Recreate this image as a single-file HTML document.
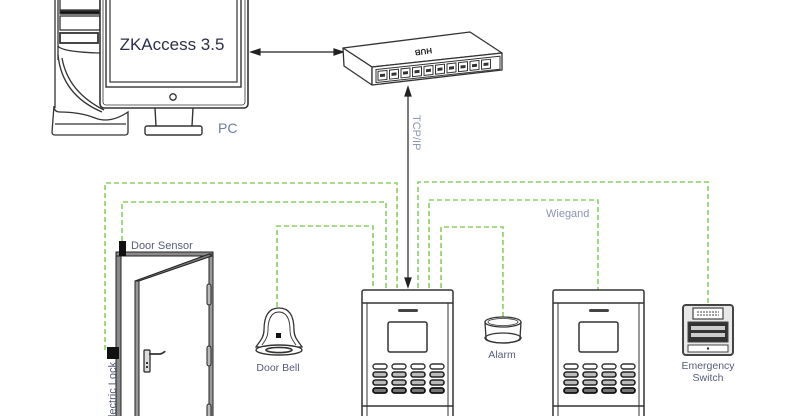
<!DOCTYPE html>
<html><head><meta charset="utf-8"><style>
html,body{margin:0;padding:0;background:#fff;}
svg{display:block;}
text{font-family:"Liberation Sans",sans-serif;}
</style></head><body>
<svg width="785" height="416" viewBox="0 0 785 416" xmlns="http://www.w3.org/2000/svg">
<rect width="785" height="416" fill="#fff"/>

<!-- PC tower -->
<g fill="none" stroke="#333" stroke-width="1.3">
  <path d="M55,0 V108"/>
  <path d="M58,0 V60"/>
  <rect x="60" y="-2" width="40" height="12" fill="#fff"/>
  <rect x="60" y="11" width="40" height="3" fill="#111"/>
  <rect x="60" y="16" width="40" height="14"/>
  <rect x="60" y="33" width="38" height="10" stroke-width="1.8"/>
  <path d="M58,46 Q62,52 100,53"/>
  <path d="M58,55 Q62,95 102,112"/>
  <path d="M62,58 Q68,92 104,110"/>
  <path d="M54,106 Q54,112 60,112 Q80,112 95,118 Q110,124 128,112 V132 Q128,135 125,135 H55 Q52,135 52,132 Z" fill="#fff"/>
  <path d="M55,124 H126"/>
</g>

<!-- Monitor -->
<g fill="none" stroke="#333">
  <rect x="100" y="-10" width="148" height="118" rx="4" stroke-width="1.6" fill="#fff"/>
  <rect x="103" y="-10" width="142" height="115" rx="3" stroke-width="0.8"/>
  <rect x="106" y="-6" width="135" height="93" stroke-width="1.4"/>
  <rect x="110" y="-6" width="127" height="88" stroke-width="1.2"/>
  <circle cx="173" cy="97" r="3.2" stroke-width="1.3"/>
  <path d="M155,108 L156,126 M193,108 L192,126" stroke-width="1.4"/>
  <rect x="145" y="126" width="57" height="9" rx="2" stroke-width="1.4" fill="#fff"/>
</g>
<text x="172" y="50" font-size="17" fill="#2b2f48" text-anchor="middle">ZKAccess 3.5</text>
<text x="218" y="133" font-size="14" fill="#6f7ea0">PC</text>

<!-- Arrow monitor <-> hub -->
<g stroke="#222" stroke-width="1.2" fill="#222">
  <line x1="256" y1="52" x2="338" y2="52"/>
  <path d="M251,52 L260,49 L260,55 Z"/>
  <path d="M343,52 L334,49 L334,55 Z"/>
</g>

<!-- HUB -->
<g stroke="#333" stroke-width="1.3" stroke-linejoin="round">
  <polygon points="343,48 470,32 502,53 372,67" fill="#fff"/>
  <polygon points="343,48 372,67 372,85 344,66" fill="#fff"/>
  <polygon points="372,67 502,53 502,70 372,85" fill="#fff"/>
</g>
<g transform="translate(372,67) skewY(-6.14)">
  <rect x="4" y="3" width="124" height="13" fill="none" stroke="#333" stroke-width="1"/>
  <g fill="#fff" stroke="#333" stroke-width="1">
    <rect x="6" y="5" width="9" height="9"/><rect x="17.5" y="5" width="9" height="9"/>
    <rect x="29" y="5" width="9" height="9"/><rect x="40.5" y="5" width="9" height="9"/>
    <rect x="52" y="5" width="9" height="9"/><rect x="63.5" y="5" width="9" height="9"/>
    <rect x="75" y="5" width="9" height="9"/><rect x="86.5" y="5" width="9" height="9"/>
    <rect x="98" y="5" width="9" height="9"/><rect x="109.5" y="5" width="9" height="9"/>
  </g>
  <g fill="#333">
    <rect x="8" y="8" width="5" height="3"/><rect x="19.5" y="8" width="5" height="3"/>
    <rect x="31" y="8" width="5" height="3"/><rect x="42.5" y="8" width="5" height="3"/>
    <rect x="54" y="8" width="5" height="3"/><rect x="65.5" y="8" width="5" height="3"/>
    <rect x="77" y="8" width="5" height="3"/><rect x="88.5" y="8" width="5" height="3"/>
    <rect x="100" y="8" width="5" height="3"/><rect x="111.5" y="8" width="5" height="3"/>
  </g>
</g>
<text x="0" y="0" font-size="8" font-weight="bold" fill="#222" text-anchor="middle" transform="translate(423,49) rotate(172)">HUB</text>

<!-- TCP/IP arrow -->
<g stroke="#222" stroke-width="1.2" fill="#222">
  <line x1="408" y1="92" x2="408" y2="282"/>
  <path d="M408,87 L405,96 L411,96 Z"/>
  <path d="M408,287 L405,278 L411,278 Z"/>
</g>
<text x="0" y="0" font-size="11" fill="#8a96b2" transform="translate(413,115) rotate(90)">TCP/IP</text>

<!-- Green dashed wiring -->
<g fill="none" stroke="#8ccf63" stroke-width="1.6" stroke-dasharray="5 3">
  <path d="M105,350 V183 H397 V288"/>
  <path d="M122,241 V202 H386 V288"/>
  <path d="M277,307 V226 H373 V288"/>
  <path d="M418,288 V182 H708 V305"/>
  <path d="M429,288 V200 H598 V290"/>
  <path d="M441,288 V227 H503 V317"/>
</g>
<text x="546" y="217" font-size="11" fill="#8a96b2">Wiegand</text>

<!-- Door -->
<g stroke="#222" stroke-width="1">
  <rect x="116" y="252" width="5" height="170" fill="#8a8a8a"/>
  <rect x="116" y="252" width="97" height="4" fill="#8a8a8a"/>
  <rect x="209" y="254" width="4" height="170" fill="#999"/>
  <rect x="135" y="281" width="4" height="140" fill="#999"/>
  <polygon points="135,281 139,281 212,256 209,254" fill="#777"/>
  <rect x="207" y="284" width="4" height="21" rx="2" fill="#bbb"/>
  <rect x="207" y="346" width="4" height="20" rx="2" fill="#bbb"/>
  <rect x="207" y="404" width="4" height="16" rx="2" fill="#bbb"/>
  <rect x="144" y="350" width="6" height="22" rx="1" fill="#ddd" stroke-width="1.2"/>
</g>
<path d="M149,354 L160,354 Q164,353 165,351" fill="none" stroke="#333" stroke-width="1.8"/>
<rect x="146" y="362" width="2" height="2" fill="#333"/>
<rect x="146" y="366" width="2" height="2" fill="#333"/>
<rect x="119" y="241" width="7" height="15" fill="#111"/>
<rect x="107" y="347" width="12" height="12" fill="#111"/>
<text x="131" y="249" font-size="11" fill="#555e78">Door Sensor</text>
<text x="0" y="0" font-size="11" fill="#555e78" text-anchor="end" transform="translate(116,362) rotate(-90)">Electric Lock</text>

<!-- Door bell -->
<g fill="none" stroke="#333" stroke-width="1.3">
  <path d="M279,308 C266,308 264,320 264,330 C264,338 259,342 256,347 L302,347 C299,342 294,338 294,330 C294,320 292,308 279,308 Z" fill="#fff"/>
  <path d="M279,312 C270,312 268,322 268,330 C268,338 264,342 262,345" stroke-width="0.9"/>
  <path d="M279,312 C288,312 290,322 290,330 C290,338 294,342 296,345" stroke-width="0.9"/>
  <ellipse cx="279" cy="350" rx="23" ry="5" fill="#fff" stroke-width="1.4"/>
  <ellipse cx="279" cy="350" rx="13" ry="2.6" stroke-width="1.6"/>
</g>
<rect x="276" y="333" width="5" height="5" fill="#111"/>
<text x="278" y="371" font-size="10.5" fill="#555e78" text-anchor="middle">Door Bell</text>

<!-- Device 1 -->
<g id="dev">
  <g fill="none" stroke="#333" stroke-width="1.5">
    <rect x="362" y="290" width="91" height="140" rx="2" fill="#fff"/>
    <line x1="362" y1="303" x2="453" y2="303"/>
    <line x1="367" y1="303" x2="367" y2="420" stroke-width="1"/>
    <line x1="448" y1="303" x2="448" y2="420" stroke-width="1"/>
    <line x1="362" y1="406" x2="453" y2="406"/>
    <rect x="388" y="322" width="39" height="30" rx="2"/>
  </g>
  <rect x="398" y="309" width="20" height="3" rx="1.5" fill="#444"/>
  <g stroke="#333" stroke-width="1.4" fill="#fff">
    <rect x="373" y="364" width="14" height="5" rx="2.5"/><rect x="392" y="364" width="14" height="5" rx="2.5"/>
    <rect x="411" y="364" width="14" height="5" rx="2.5"/><rect x="430" y="364" width="14" height="5" rx="2.5"/>
  </g>
  <g stroke="#222" stroke-width="1.6" fill="#bbb">
    <rect x="373" y="372" width="14" height="5" rx="2.5"/><rect x="392" y="372" width="14" height="5" rx="2.5"/>
    <rect x="411" y="372" width="14" height="5" rx="2.5"/><rect x="430" y="372" width="14" height="5" rx="2.5"/>
    <rect x="373" y="380" width="14" height="5" rx="2.5"/><rect x="392" y="380" width="14" height="5" rx="2.5"/>
    <rect x="411" y="380" width="14" height="5" rx="2.5"/><rect x="430" y="380" width="14" height="5" rx="2.5"/>
  </g>
  <g stroke="#111" stroke-width="1.8" fill="#777">
    <rect x="373" y="388" width="14" height="5" rx="2.5"/><rect x="392" y="388" width="14" height="5" rx="2.5"/>
    <rect x="411" y="388" width="14" height="5" rx="2.5"/><rect x="430" y="388" width="14" height="5" rx="2.5"/>
  </g>
</g>
<!-- Device 2 -->
<use href="#dev" transform="translate(191,0)"/>

<!-- Alarm -->
<g fill="#fff" stroke="#333" stroke-width="1.3">
  <path d="M485,322 L486,338 A17,5 0 0 0 520,338 L521,322"/>
  <ellipse cx="503" cy="338" rx="18" ry="5" fill="none"/>
  <ellipse cx="503" cy="322" rx="18" ry="5"/>
  <ellipse cx="503" cy="322" rx="15" ry="3.5" fill="none" stroke-width="0.8"/>
</g>
<text x="502" y="358" font-size="10.5" fill="#555e78" text-anchor="middle">Alarm</text>

<!-- Emergency switch -->
<g stroke="#444">
  <rect x="683" y="305" width="50" height="50" rx="3" fill="#e8e8e8" stroke-width="2"/>
  <rect x="693" y="308" width="30" height="11" fill="#fff" stroke-width="1.2"/>
  <line x1="697" y1="312" x2="719" y2="312" stroke-width="1" stroke-dasharray="2 1"/>
  <line x1="697" y1="315" x2="719" y2="315" stroke-width="1" stroke-dasharray="2 1"/>
  <rect x="688" y="322" width="40" height="20" fill="#333" stroke-width="1"/>
  <rect x="691" y="326" width="34" height="4" fill="#ccc" stroke="none"/>
  <rect x="691" y="333" width="34" height="4" fill="#ccc" stroke="none"/>
  <rect x="688" y="345" width="40" height="7" fill="#fff" stroke-width="1"/>
</g>
<circle cx="708" cy="348.5" r="1.2" fill="#333"/>
<text x="708" y="369" font-size="10.5" fill="#555e78" text-anchor="middle">Emergency</text>
<text x="708" y="381" font-size="10.5" fill="#555e78" text-anchor="middle">Switch</text>
</svg>
</body></html>
